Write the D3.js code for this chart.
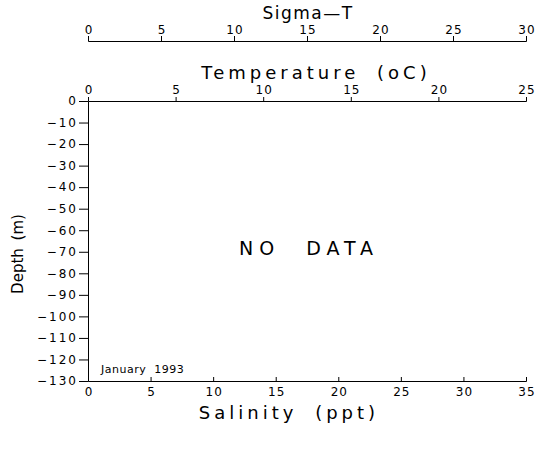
<!DOCTYPE html>
<html>
<head>
<meta charset="utf-8">
<script src="https://cdn.jsdelivr.net/npm/d3@7"></script>
<style>
  body { margin: 0; background: #fff; }
  svg text { font-family: "DejaVu Sans", sans-serif; fill: #000; }
  .tick text { font-size: 12px; letter-spacing: 1px; }
  .y-axis .tick text { letter-spacing: 2px; }
  .domain, .tick line { stroke: #000; stroke-width: 1; }
</style>
</head>
<body>
<svg id="chart" width="543" height="452"></svg>
<script>
// axis ranges and ticks
const sigmaDomain = [0, 30];
const sigmaTicks = [0, 5, 10, 15, 20, 25, 30];
const tempDomain = [0, 25];
const tempTicks = [0, 5, 10, 15, 20, 25];
const salDomain = [0, 35];
const salTicks = [0, 5, 10, 15, 20, 25, 30, 35];
const depthDomain = [0, -130];
const depthTicks = [0, -10, -20, -30, -40, -50, -60, -70, -80, -90, -100, -110, -120, -130];

const left = 88, right = 526;
const plotTop = 101, plotBottom = 381;
const sigmaY = 41;

const svg = d3.select("#chart");

// SCALES
const xSigma = d3.scaleLinear().domain(sigmaDomain).range([left, right]);
const xTemp = d3.scaleLinear().domain(tempDomain).range([left, right]);
const xSal = d3.scaleLinear().domain(salDomain).range([left, right]);
const yDepth = d3.scaleLinear().domain(depthDomain).range([plotTop, plotBottom]);

const fmt = d => d < 0 ? "\u2212" + Math.abs(d) : String(d);

// letter-spacing leaves a trailing gap, so shift centred labels by half of it
function nudge(g, dx) {
  g.selectAll(".tick text").attr("dx", dx);
}

// SIGMA-T AXIS (top)
svg.append("g")
  .attr("transform", `translate(0, ${sigmaY})`)
  .call(d3.axisTop(xSigma).tickValues(sigmaTicks).tickSize(5).tickSizeOuter(5).tickPadding(2))
  .call(nudge, 0.5);

// TEMPERATURE AXIS
svg.append("g")
  .attr("transform", `translate(0, ${plotTop})`)
  .call(d3.axisTop(xTemp).tickValues(tempTicks).tickSize(4).tickSizeOuter(4).tickPadding(3))
  .call(nudge, 0.5);

// SALINITY AXIS (bottom)
svg.append("g")
  .attr("transform", `translate(0, ${plotBottom})`)
  .call(d3.axisBottom(xSal).tickValues(salTicks).tickSize(-4).tickSizeOuter(-4).tickPadding(5))
  .call(nudge, 0.5)
  .selectAll(".tick text").attr("dy", "0.8em");

// DEPTH AXIS
svg.append("g")
  .attr("class", "y-axis")
  .attr("transform", `translate(${left}, 0)`)
  .call(d3.axisLeft(yDepth).tickValues(depthTicks).tickFormat(fmt).tickSize(9).tickSizeOuter(0).tickPadding(1));

// AXIS TITLES
svg.append("text")
  .attr("x", 308)
  .attr("y", 19)
  .attr("text-anchor", "middle")
  .style("font-size", "17px")
  .style("letter-spacing", "1.5px")
  .text("Sigma\u2014T");

svg.append("text")
  .attr("x", 316)
  .attr("y", 79)
  .attr("text-anchor", "middle")
  .style("font-size", "18px")
  .style("letter-spacing", "4px")
  .style("word-spacing", "8px")
  .text("Temperature (oC)");

svg.append("text")
  .attr("x", 289)
  .attr("y", 419)
  .attr("text-anchor", "middle")
  .style("font-size", "18px")
  .style("letter-spacing", "4px")
  .style("word-spacing", "8px")
  .text("Salinity (ppt)");

svg.append("text")
  .attr("transform", `translate(23, ${(plotTop + plotBottom) / 2 + 13}) rotate(-90)`)
  .attr("text-anchor", "middle")
  .style("font-size", "15px")
  .style("word-spacing", "3px")
  .text("Depth (m)");

// NO DATA NOTE
svg.append("text")
  .attr("x", 309)
  .attr("y", 255)
  .attr("text-anchor", "middle")
  .style("font-size", "19px")
  .style("letter-spacing", "6px")
  .style("word-spacing", "14px")
  .text("NO DATA");

svg.append("text")
  .attr("x", 101)
  .attr("y", 373)
  .style("font-size", "11px")
  .style("letter-spacing", "0.5px")
  .style("word-spacing", "4px")
  .text("January 1993");
</script>
</body>
</html>
